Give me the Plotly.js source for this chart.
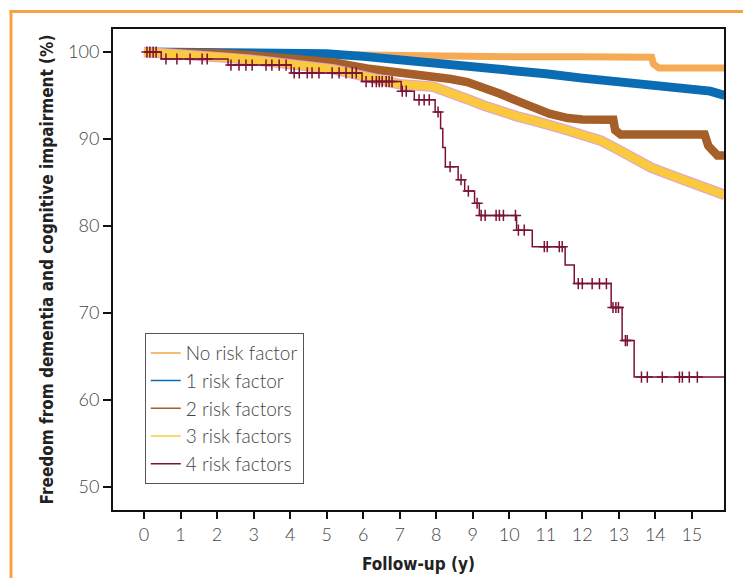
<!DOCTYPE html>
<html>
<head>
<meta charset="utf-8">
<script src="https://cdn.plot.ly/plotly-3.0.1.min.js"></script>
<style>
  html, body { margin: 0; padding: 0; background: #ffffff; }
  #chart { width: 743px; height: 578px; }
</style>
</head>
<body>
<div id="chart"></div>
<script>
// ---- Data ----
const seriesNames = ['No risk factor', '1 risk factor', '2 risk factors', '3 risk factors', '4 risk factors'];
const seriesColors = ['#F6A44A', '#0A6DB3', '#A65F28', '#FBC93E', '#7A1236'];

const xTicks = [0, 1, 2, 3, 4, 5, 6, 7, 8, 9, 10, 11, 12, 13, 14, 15];
const yTicks = [50, 60, 70, 80, 90, 100];

// No risk factor
const orangeT = [0, 1.5, 3.0, 4.5, 5.5, 6.5, 7.5, 8.5, 10.0, 12.0, 13.9, 13.95, 14.1, 15.9];
const orangeS = [100, 100, 99.9, 99.8, 99.7, 99.6, 99.5, 99.45, 99.45, 99.45, 99.4, 98.6, 98.15, 98.15];

// 1 risk factor
const blueT = [0, 2, 3, 4, 5, 6, 7, 8, 9, 10, 11, 12, 13, 14, 15, 15.5, 15.9];
const blueS = [100, 100, 99.95, 99.9, 99.8, 99.5, 99.15, 98.8, 98.4, 97.95, 97.5, 97.0, 96.5, 96.05, 95.7, 95.5, 95.0];

// 2 risk factors
const brownT = [0, 1, 2, 3, 4, 4.5, 5.2, 6.1, 7.0, 7.9, 8.4, 8.85, 9.3, 9.75, 10.2, 10.5, 11.1, 11.6, 12.0, 12.85, 12.9, 13.05, 15.35, 15.45, 15.7, 15.9];
const brownS = [100, 99.95, 99.85, 99.6, 99.3, 99.1, 98.8, 98.1, 97.7, 97.3, 96.9, 96.55, 96.0, 95.2, 94.4, 93.85, 92.9, 92.4, 92.25, 92.2, 91.0, 90.5, 90.5, 89.2, 88.1, 88.1];

// 3 risk factors
const yellowT = [0, 0.5, 1.2, 2.4, 3.3, 4.27, 5.2, 6.1, 7.0, 7.92, 8.38, 8.84, 9.3, 9.76, 10.21, 10.67, 11.13, 11.59, 12.05, 12.51, 12.97, 13.43, 13.89, 14.35, 14.8, 15.26, 15.72, 15.9];
const yellowS = [100, 99.9, 99.7, 99.3, 98.95, 98.5, 98.0, 97.15, 96.3, 96.0, 95.4, 94.6, 93.85, 93.1, 92.6, 92.1, 91.65, 91.0, 90.4, 89.8, 88.8, 87.7, 86.7, 85.95, 85.2, 84.6, 83.8, 83.55];

// 4 risk factors (event steps)
const maroonT = [0, 0.47, 2.3, 4.03, 5.97, 7.04, 7.4, 7.97, 8.12, 8.18, 8.25, 8.6, 8.78, 9.05, 9.18, 10.2, 10.63, 11.53, 11.78, 12.79, 13.09, 13.42, 15.9];
const maroonS = [100, 99.2, 98.5, 97.6, 96.6, 95.5, 94.5, 93.1, 91.2, 89.0, 86.8, 85.3, 84.0, 82.6, 81.2, 79.5, 77.6, 75.5, 73.35, 70.6, 66.8, 62.6, 62.6];
// 4 risk factors (censoring times)
const maroonCensor = [0.08, 0.16, 0.25, 0.33, 0.6, 0.9, 1.26, 1.59, 1.73, 2.38, 2.6, 2.79, 2.96, 3.34, 3.5, 3.7, 3.89,
  4.11, 4.25, 4.47, 4.6, 4.79, 5.15, 5.34, 5.53, 5.7, 5.81, 6.08, 6.25, 6.36, 6.44, 6.52, 6.63, 6.71, 6.79,
  7.07, 7.18, 7.53, 7.67, 7.81, 8.05, 8.38, 8.68, 8.88, 9.12, 9.23, 9.34, 9.64, 9.73, 9.84, 10.17, 10.25, 10.41,
  10.96, 11.04, 11.37, 11.45, 11.89, 12.0, 12.27, 12.47, 12.66, 12.84, 12.92, 12.99, 13.18, 13.23,
  13.62, 13.78, 14.19, 14.66, 14.74, 14.93, 15.15];

// step-function lookup for censor marks
function stepValue(T, S, t) {
  let v = S[0];
  for (let i = 0; i < T.length; i++) { if (T[i] <= t) v = S[i]; }
  return v;
}

const bandFont = 'Lato, "Open Sans", sans-serif';
const titleFont = '"DejaVu Sans Condensed", "DejaVu Sans", sans-serif';

const traces = [
  { x: orangeT, y: orangeS, mode: 'lines', line: { color: '#F7AA55', width: 7 }, showlegend: false, hoverinfo: 'skip' },
  { x: blueT, y: blueS, mode: 'lines', line: { color: seriesColors[1], width: 9 }, showlegend: false, hoverinfo: 'skip' },
  { x: brownT, y: brownS, mode: 'lines', line: { color: seriesColors[2], width: 8.5 }, showlegend: false, hoverinfo: 'skip' },
  { x: yellowT, y: yellowS, mode: 'lines', line: { color: '#D9A4D6', width: 10.5 }, showlegend: false, hoverinfo: 'skip' },
  { x: yellowT, y: yellowS, mode: 'lines', line: { color: seriesColors[3], width: 8.5 }, showlegend: false, hoverinfo: 'skip' },
  { x: maroonT, y: maroonS, mode: 'lines', line: { color: seriesColors[4], width: 1.5, shape: 'hv' }, showlegend: false, hoverinfo: 'skip' },
  { x: maroonCensor, y: maroonCensor.map(t => stepValue(maroonT, maroonS, t)), mode: 'markers',
    marker: { symbol: 'cross-thin', size: 8, color: seriesColors[4], line: { color: seriesColors[4], width: 1.5 } },
    showlegend: false, hoverinfo: 'skip' }
];
// legend entries (thin lines as in the reference legend)
seriesNames.forEach((name, i) => {
  traces.push({ x: [null], y: [null], mode: 'lines', name: name, line: { color: seriesColors[i], width: 1.5 }, showlegend: true });
});

const orange = '#F5A444';
const layout = {
  width: 743, height: 578,
  margin: { l: 113, r: 19, t: 29, b: 68 },
  paper_bgcolor: '#ffffff', plot_bgcolor: '#ffffff',
  showlegend: true,
  legend: {
    x: 0.052, y: 0.054, xanchor: 'left', yanchor: 'bottom',
    bgcolor: '#ffffff', bordercolor: '#555', borderwidth: 1,
    font: { family: bandFont, size: 19, weight: 300, color: '#444' },
    traceorder: 'normal'
  },
  xaxis: {
    range: [-0.85, 15.88], tickvals: xTicks, ticktext: xTicks.map(String),
    ticks: 'outside', ticklen: 7, tickwidth: 2, tickcolor: '#111',
    showline: true, linewidth: 2, linecolor: '#111', mirror: true,
    showgrid: false, zeroline: false,
    tickfont: { family: bandFont, size: 18, weight: 300, color: '#444' },
    title: { text: 'Follow-up (y)', font: { family: titleFont, size: 17, weight: 'bold', color: '#222' }, standoff: 15 }
  },
  yaxis: {
    range: [47.3, 102.65], tickvals: yTicks, ticktext: yTicks.map(String),
    ticks: 'outside', ticklen: 8, tickwidth: 2, tickcolor: '#111',
    showline: true, linewidth: 2, linecolor: '#111', mirror: true,
    showgrid: false, zeroline: false,
    tickfont: { family: bandFont, size: 18, weight: 300, color: '#444' },
    title: { text: 'Freedom from dementia and cognitive impairment (%)', font: { family: titleFont, size: 17, weight: 'bold', color: '#222' }, standoff: 10 }
  },
  shapes: [
    { type: 'line', xref: 'paper', yref: 'paper', x0: (11 - 113) / 611, x1: (11 - 113) / 611, y0: (510 - 10) / 481, y1: -0.2, line: { color: orange, width: 3 } },
    { type: 'line', xref: 'paper', yref: 'paper', x0: (9.5 - 113) / 611, x1: 1.1, y0: (510 - 11.5) / 481, y1: (510 - 11.5) / 481, line: { color: orange, width: 3 } }
  ]
};

Plotly.newPlot('chart', traces, layout, { displayModeBar: false, staticPlot: true });
</script>
</body>
</html>
